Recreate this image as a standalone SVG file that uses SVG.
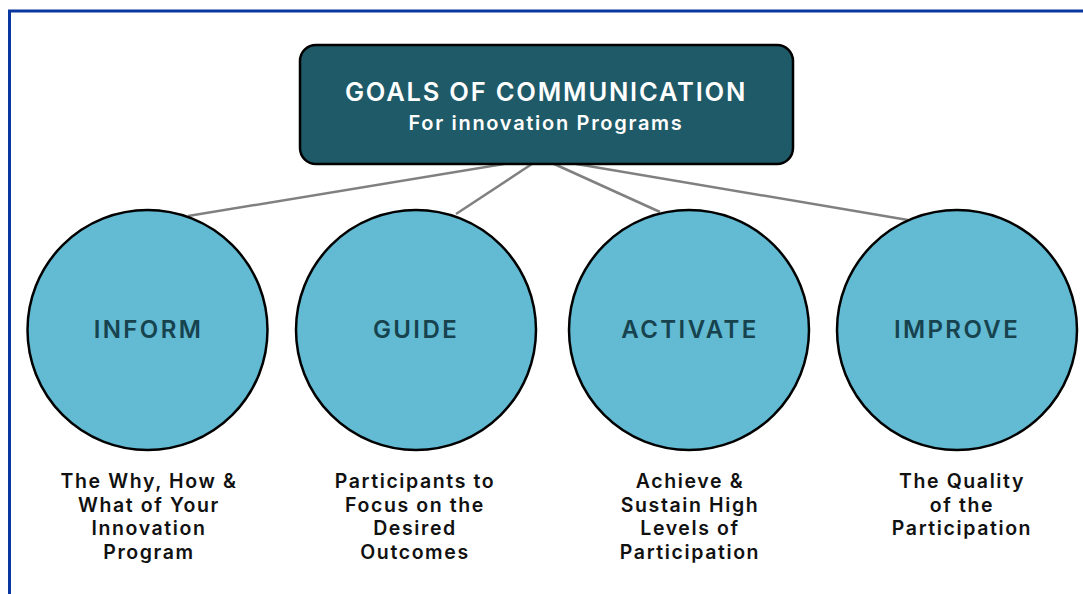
<svg xmlns="http://www.w3.org/2000/svg" width="1083" height="594" viewBox="0 0 1083 594">
  <style>
    .frame { fill: none; stroke: #0a36a0; stroke-width: 3; }
    .header { fill: #1f5a68; stroke: #000; stroke-width: 2.5; }
    .title { font-family: Inter, "Open Sans", sans-serif; fill: #ffffff; text-anchor: middle; font-weight: 600; }
    .goal { fill: #62bad3; stroke: #000; stroke-width: 2.5; }
    .goal-label { font-family: Inter, "Open Sans", sans-serif; font-weight: 600; font-size: 24px; fill: #17434f; text-anchor: middle; letter-spacing: 2.4px; }
    .desc { font-family: Inter, "Open Sans", sans-serif; font-weight: 600; font-size: 19.5px; fill: #111; text-anchor: middle; letter-spacing: 1.6px; }
    .link { stroke: #808080; stroke-width: 2.5; fill: none; }
  </style>

  <rect width="1083" height="594" fill="#ffffff"/>
  <rect class="frame" x="9.5" y="11" width="1200" height="700"/>

  <!-- connectors from the header to each goal -->
  <g id="connectors">
    <line class="link" x1="541" y1="158" x2="188" y2="216"/>
    <line class="link" x1="541" y1="158" x2="456" y2="214"/>
    <line class="link" x1="541" y1="158" x2="660" y2="212"/>
    <line class="link" x1="541" y1="158" x2="908" y2="220"/>
  </g>

  <g id="header">
    <rect class="header" x="300" y="45" width="493" height="119" rx="16"/>
    <text class="title" x="546" y="101" font-size="25.5" letter-spacing="1.8">GOALS OF COMMUNICATION</text>
    <text class="title" x="546" y="130" font-size="20" letter-spacing="1.7">For innovation Programs</text>
  </g>

  <g id="inform">
    <circle class="goal" cx="147.5" cy="330" r="120"/>
    <text class="goal-label" x="148.5" y="338">INFORM</text>
    <text class="desc" x="149" y="488">The Why, How &amp;<tspan x="149" y="512">What of Your</tspan><tspan x="149" y="535">Innovation</tspan><tspan x="149" y="559">Program</tspan></text>
  </g>

  <g id="guide">
    <circle class="goal" cx="416" cy="330" r="120"/>
    <text class="goal-label" x="416" y="338">GUIDE</text>
    <text class="desc" x="415" y="488">Participants to<tspan x="415" y="512">Focus on the</tspan><tspan x="415" y="535">Desired</tspan><tspan x="415" y="559">Outcomes</tspan></text>
  </g>

  <g id="activate">
    <circle class="goal" cx="689" cy="330" r="120"/>
    <text class="goal-label" x="690" y="338">ACTIVATE</text>
    <text class="desc" x="690" y="488">Achieve &amp;<tspan x="690" y="512">Sustain High</tspan><tspan x="690" y="535">Levels of</tspan><tspan x="690" y="559">Participation</tspan></text>
  </g>

  <g id="improve">
    <circle class="goal" cx="957" cy="330" r="120"/>
    <text class="goal-label" x="957" y="338">IMPROVE</text>
    <text class="desc" x="962" y="488">The Quality<tspan x="962" y="512">of the</tspan><tspan x="962" y="535">Participation</tspan></text>
  </g>
</svg>
